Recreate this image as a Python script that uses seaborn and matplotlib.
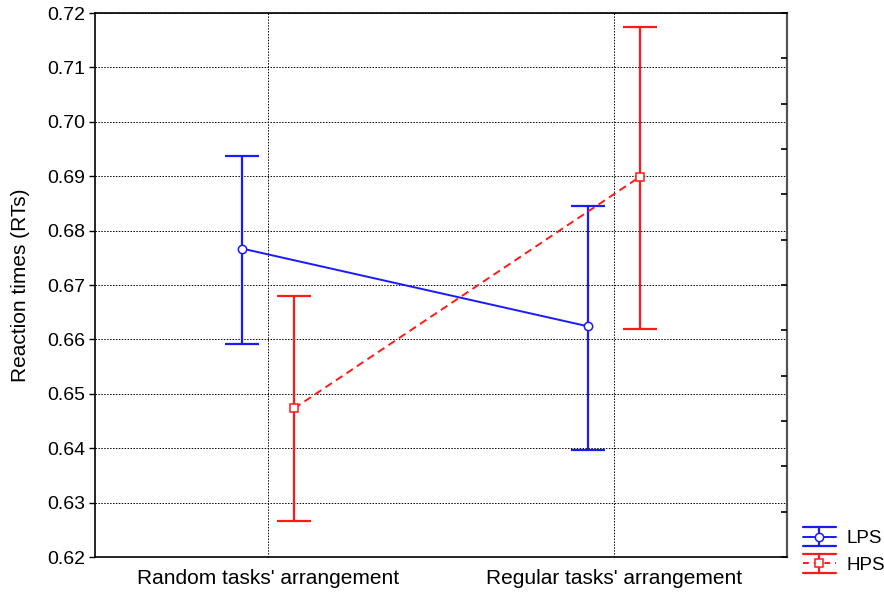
import matplotlib
matplotlib.use("Agg")
import matplotlib.pyplot as plt
from matplotlib.legend_handler import HandlerBase
from matplotlib.lines import Line2D
import numpy as np
import pandas as pd
import seaborn as sns

# Mean reaction times with lower / upper confidence limits
categories = ["Random tasks' arrangement", "Regular tasks' arrangement"]
groups = ["LPS", "HPS"]
lps_mean = [0.6767, 0.6624]
lps_low = [0.6592, 0.6396]
lps_high = [0.6938, 0.6846]
hps_mean = [0.6473, 0.6899]
hps_low = [0.6266, 0.6620]
hps_high = [0.6680, 0.7174]
y_ticks = [0.62, 0.63, 0.64, 0.65, 0.66, 0.67, 0.68, 0.69, 0.70, 0.71, 0.72]

sns.set_theme(style="white")
plt.rcParams["font.family"] = ["Liberation Sans", "DejaVu Sans"]
plt.rcParams["text.color"] = "black"
plt.rcParams["axes.labelcolor"] = "black"
plt.rcParams["xtick.color"] = "black"
plt.rcParams["ytick.color"] = "black"

fig = plt.figure(figsize=(8.84, 5.93), dpi=100)
ax = fig.add_axes([95 / 884, 1 - 557 / 593, (787 - 95) / 884, (557 - 13) / 593])

rows = []
for g, m, lo, hi in [("LPS", lps_mean, lps_low, lps_high), ("HPS", hps_mean, hps_low, hps_high)]:
    for i, c in enumerate(categories):
        rows.append({"group": g, "cat": i, "mean": m[i], "low": lo[i], "high": hi[i]})
df = pd.DataFrame(rows)

offsets = {"LPS": -0.075, "HPS": 0.075}
palette = {"LPS": "#1a1aff", "HPS": "#ff1a1a"}
markers = {"LPS": "o", "HPS": "s"}
dashes = {"LPS": "", "HPS": (4, 2.5)}
df["x"] = df["cat"] + df["group"].map(offsets)

# Connecting lines with open markers
sns.lineplot(data=df, x="x", y="mean", hue="group", style="group", ax=ax,
             palette=palette, markers=markers, dashes=dashes, linewidth=1.4,
             markersize=6, markerfacecolor="white", markeredgewidth=1.1,
             legend=False, zorder=4)
for line in ax.lines:
    line.set_markeredgecolor(line.get_color())

# Confidence-interval whiskers with caps
for g in groups:
    sub = df[df["group"] == g]
    ax.errorbar(sub["x"], sub["mean"],
                yerr=[sub["mean"] - sub["low"], sub["high"] - sub["mean"]],
                fmt="none", ecolor=palette[g], elinewidth=1.6,
                capsize=12.5, capthick=1.6, zorder=3)


class ErrorbarKey:
    def __init__(self, color, ls, marker):
        self.color, self.ls, self.marker = color, ls, marker


class ErrorbarKeyHandler(HandlerBase):
    def create_artists(self, legend, h, xdescent, ydescent, width, height, fontsize, trans):
        x0, x1 = -xdescent, -xdescent + width
        xm = (x0 + x1) / 2
        ym = -ydescent + height / 2
        dy = height * 0.6
        arts = [
            Line2D([x0, x1], [ym, ym], color=h.color, ls=h.ls, lw=1.4),
            Line2D([x0, x1], [ym + dy, ym + dy], color=h.color, lw=1.6),
            Line2D([x0, x1], [ym - dy, ym - dy], color=h.color, lw=1.6),
            Line2D([xm, xm], [ym - dy, ym + dy], color=h.color, lw=1.6),
            Line2D([xm], [ym], color=h.color, marker=h.marker, markersize=6,
                   markerfacecolor="white", markeredgecolor=h.color, markeredgewidth=1.1),
        ]
        for a in arts:
            a.set_transform(trans)
        return arts


keys = [ErrorbarKey(palette["LPS"], "-", "o"), ErrorbarKey(palette["HPS"], (0, (3, 2.5)), "s")]

ax.set_xlim(-0.5, 1.5)
ax.set_ylim(0.62, 0.72)
ax.set_yticks(y_ticks)
ax.set_yticklabels([f"{v:.2f}" for v in y_ticks])
ax.set_xticks([0, 1])
ax.set_xticklabels(categories)
ax.set_xlabel("")
ax.set_ylabel("Reaction times (RTs)", fontsize=15, labelpad=12)
ax.tick_params(axis="y", which="major", direction="out", length=4, width=1,
               labelsize=14, left=True, pad=3)
ax.tick_params(axis="x", length=0, labelsize=15, pad=9)

ax.grid(True, axis="both", color="black", linestyle=(0, (1.5, 1.5)), linewidth=0.7)
ax.set_axisbelow(True)

for side in ["left", "top", "bottom"]:
    ax.spines[side].set_color("black")
    ax.spines[side].set_linewidth(1.2)
ax.spines["right"].set_color("#555555")
ax.spines["right"].set_linewidth(1.6)

# Secondary right-hand axis with inward ticks only
ax2 = ax.twinx()
ax2.set_ylim(0.62, 0.72)
ax2.set_yticks(np.linspace(0.62, 0.72, 13))
ax2.tick_params(axis="y", direction="in", length=4, width=1.2, color="black", labelright=False)
for s in ax2.spines.values():
    s.set_visible(False)
ax2.grid(False)

fig.legend(keys, groups, handler_map={ErrorbarKey: ErrorbarKeyHandler()},
           loc="upper left", bbox_to_anchor=(803 / 884, 1 - 529 / 593),
           frameon=False, fontsize=13.5, handlelength=1.75, handleheight=0.9,
           handletextpad=0.55, labelspacing=0.45, borderaxespad=0, borderpad=0)

fig.savefig("out.png", dpi=100)
